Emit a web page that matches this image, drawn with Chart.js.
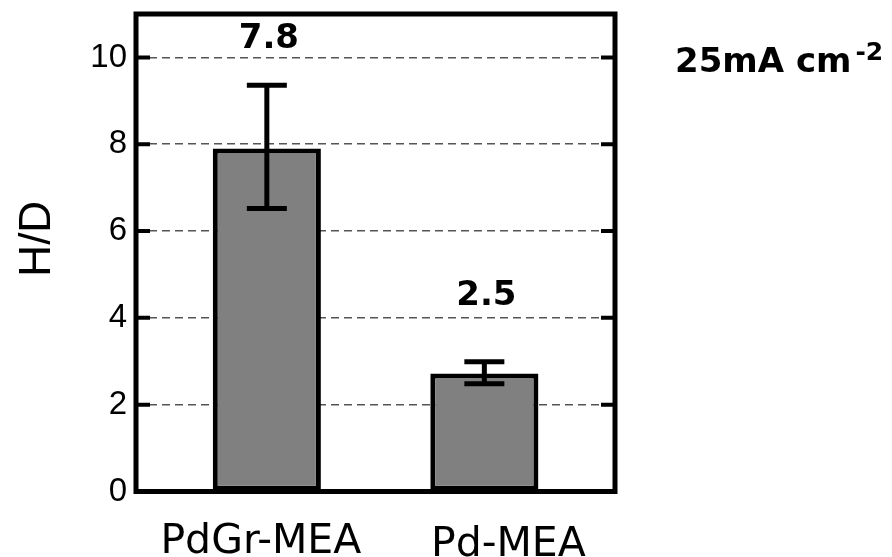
<!DOCTYPE html>
<html>
<head>
<meta charset="utf-8">
<script src="https://cdn.jsdelivr.net/npm/chart.js@4.4.1/dist/chart.umd.min.js"></script>
<style>
  html, body { margin: 0; padding: 0; background: #fff; }
  canvas { display: block; }
</style>
</head>
<body>
<canvas id="chart" width="892" height="557"></canvas>
<script>
// values
const categories = ['PdGr-MEA', 'Pd-MEA'];
const catPositions = [1, 2];
const hdValues = [7.9, 2.72];
const errLow = [6.52, 2.48];
const errHigh = [9.36, 2.99];
const valueLabels = ['7.8', '2.5'];
const yTicks = [0, 2, 4, 6, 8, 10];
const yTitle = 'H/D';

/* extra drawing: frame, inward ticks, error bars, labels */
const decorations = {
  id: 'decorations',
  afterDatasetsDraw(chart) {
    const ctx = chart.ctx;
    const x = chart.scales.x;
    const y = chart.scales.y;
    ctx.save();
    ctx.strokeStyle = '#000';
    ctx.lineWidth = 5;
    ctx.lineCap = 'butt';
    for (let i = 0; i < hdValues.length; i++) {
      let cx = x.getPixelForValue(catPositions[i]);
      let yLo = y.getPixelForValue(errLow[i]);
      let yHi = y.getPixelForValue(errHigh[i]);
      ctx.beginPath();
      ctx.moveTo(cx, yLo);
      ctx.lineTo(cx, yHi);
      ctx.moveTo(cx - 20, yLo);
      ctx.lineTo(cx + 20, yLo);
      ctx.moveTo(cx - 20, yHi);
      ctx.lineTo(cx + 20, yHi);
      ctx.stroke();
    }

    // value labels above the error bars
    const lift = [37, 57];
    ctx.fillStyle = '#000';
    ctx.font = 'bold 34px "DejaVu Sans"';
    ctx.textAlign = 'center';
    ctx.textBaseline = 'alphabetic';
    for (let i = 0; i < valueLabels.length; i++) {
      let cx = x.getPixelForValue(catPositions[i]);
      ctx.fillText(valueLabels[i], cx + 2, y.getPixelForValue(errHigh[i]) - lift[i]);
    }
    ctx.restore();
  },
  afterDraw(chart) {
    const ctx = chart.ctx;
    const area = chart.chartArea;
    const x = chart.scales.x;
    const y = chart.scales.y;
    ctx.save();
    ctx.strokeStyle = '#000';
    ctx.lineWidth = 5;
    ctx.strokeRect(area.left, area.top, area.right - area.left, area.bottom - area.top);

    ctx.lineWidth = 4;
    ctx.beginPath();
    for (let v of yTicks) {
      let py = y.getPixelForValue(v);
      ctx.moveTo(area.left, py);
      ctx.lineTo(area.left + 14, py);
      ctx.moveTo(area.right, py);
      ctx.lineTo(area.right - 14, py);
    }
    ctx.stroke();

    // axis title
    ctx.fillStyle = '#000';
    ctx.save();
    ctx.translate(50, (area.top + area.bottom) / 2 - 14);
    ctx.rotate(-Math.PI / 2);
    ctx.font = '44px "Liberation Sans", Arial';
    ctx.textAlign = 'center';
    ctx.textBaseline = 'alphabetic';
    ctx.fillText(yTitle, 0, 0);
    ctx.restore();

    // category names
    const nudgeX = [-6, 24];
    const nudgeY = [61, 64];
    ctx.font = '41px "DejaVu Sans"';
    ctx.textAlign = 'center';
    ctx.textBaseline = 'alphabetic';
    for (let i = 0; i < categories.length; i++) {
      ctx.fillText(categories[i], x.getPixelForValue(catPositions[i]) + nudgeX[i], area.bottom + nudgeY[i]);
    }

    // current density note
    ctx.textAlign = 'left';
    ctx.font = 'bold 34px "DejaVu Sans"';
    ctx.fillText('25mA cm', 675, 72);
    let w = ctx.measureText('25mA cm').width;
    ctx.font = 'bold 25px "DejaVu Sans"';
    ctx.fillText('-2', 675 + w + 4, 60);
    ctx.restore();
  }
};

const ctx = document.getElementById('chart').getContext('2d');
new Chart(ctx, {
  type: 'bar',
  data: {
    datasets: [{
      label: yTitle,
      data: hdValues.map((v, i) => ({ x: catPositions[i], y: v })),
      backgroundColor: '#808080',
      borderColor: '#000',
      borderWidth: 5,
      borderSkipped: false,
      barPercentage: 0.497,
      categoryPercentage: 1
    }]
  },
  options: {
    responsive: false,
    devicePixelRatio: 1,
    animation: false,
    layout: {
      padding: { left: 0, right: 277, top: 14, bottom: 0 }
    },
    plugins: {
      legend: { display: false },
      tooltip: { enabled: false }
    },
    scales: {
      x: {
        type: 'linear',
        min: 0.3985,
        max: 2.6006,
        offset: false,
        afterBuildTicks: function(scale) {
          scale.ticks = catPositions.map(v => ({ value: v }));
        },
        afterFit: function(scale) {
          scale.height = 65.5;
          scale.paddingLeft = 0;
          scale.paddingRight = 0;
        },
        ticks: { display: false },
        grid: { display: false, offset: false },
        border: { display: false }
      },
      y: {
        min: 0,
        max: 11,
        afterBuildTicks: function(scale) {
          scale.ticks = yTicks.map(v => ({ value: v }));
        },
        afterFit: function(scale) {
          scale.width = 136;
          scale.paddingTop = 0;
          scale.paddingBottom = 0;
        },
        ticks: {
          padding: 9,
          color: '#000',
          font: { family: '"Liberation Sans", Arial', size: 33 }
        },
        grid: {
          drawTicks: false,
          color: '#555',
          lineWidth: 1.5
        },
        border: { display: false, dash: [8, 5] }
      }
    }
  },
  plugins: [decorations]
});
</script>
</body>
</html>
